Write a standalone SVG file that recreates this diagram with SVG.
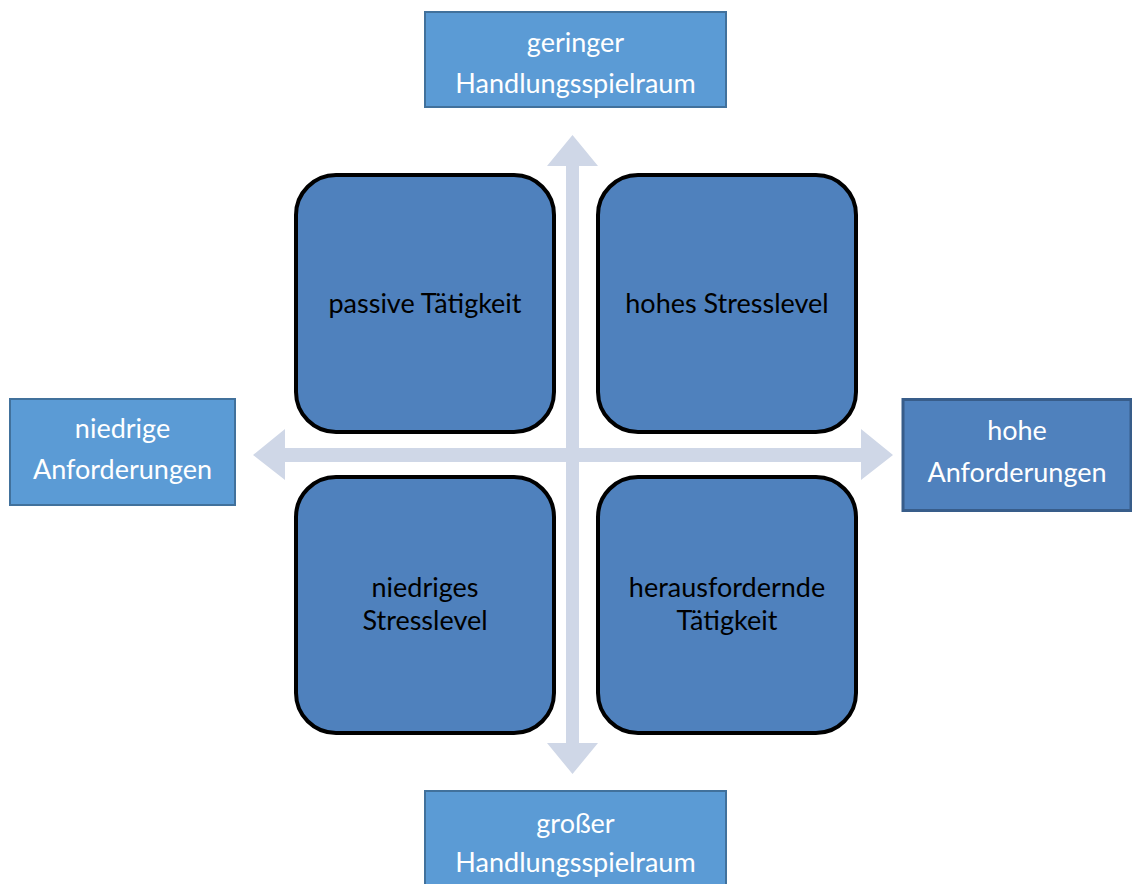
<svg xmlns="http://www.w3.org/2000/svg" width="1132" height="884" viewBox="0 0 1132 884">
<style>
  .axis { fill: #5B9BD5; stroke: #41719C; stroke-width: 2; }
  .axis-hi { fill: #4F81BD; stroke: #385D8A; stroke-width: 3; }
  .quad { fill: #4F81BD; stroke: #000000; stroke-width: 4; }
  .arrow { fill: #CFD7E7; }
  .lt { font-family: "Lato", "Liberation Sans", sans-serif; font-size: 27px; fill: #FFFFFF; text-anchor: middle; }
  .dt { font-family: "Lato", "Liberation Sans", sans-serif; font-size: 27px; fill: #000000; text-anchor: middle; }
</style>
<rect width="1132" height="884" fill="#FFFFFF"/>
<g id="connectors">
  <polygon class="arrow" points="572.5,135 598,166 579,166 579,743 598,743 572.5,774 547,743 566,743 566,166 547,166"/>
  <polygon class="arrow" points="253,455 285,429 285,448 861,448 861,429 893,455 861,480 861,462 285,462 285,480"/>
</g>
<g id="q-passive">
  <rect class="quad" x="296" y="175" width="258" height="257" rx="40"/>
  <text class="dt" x="425" y="313">passive Tätigkeit</text>
</g>
<g id="q-hohes">
  <rect class="quad" x="598" y="175" width="258" height="257" rx="40"/>
  <text class="dt" x="727" y="313">hohes Stresslevel</text>
</g>
<g id="q-niedriges">
  <rect class="quad" x="296" y="477" width="258" height="256" rx="40"/>
  <text class="dt" x="425" y="597">niedriges</text>
  <text class="dt" x="425" y="630">Stresslevel</text>
</g>
<g id="q-heraus">
  <rect class="quad" x="598" y="477" width="258" height="256" rx="40"/>
  <text class="dt" x="727" y="597">herausfordernde</text>
  <text class="dt" x="727" y="630">Tätigkeit</text>
</g>
<g id="n-top">
  <rect class="axis" x="425" y="12" width="301" height="95"/>
  <text class="lt" x="575.5" y="52">geringer</text>
  <text class="lt" x="575.5" y="93">Handlungsspielraum</text>
</g>
<g id="n-left">
  <rect class="axis" x="10" y="399" width="225" height="106"/>
  <text class="lt" x="122.5" y="438">niedrige</text>
  <text class="lt" x="122.5" y="479">Anforderungen</text>
</g>
<g id="n-right">
  <rect class="axis-hi" x="903" y="399.5" width="228" height="111"/>
  <text class="lt" x="1017" y="440">hohe</text>
  <text class="lt" x="1017" y="482">Anforderungen</text>
</g>
<g id="n-bottom">
  <rect class="axis" x="425" y="791" width="301" height="100"/>
  <text class="lt" x="575.5" y="833">großer</text>
  <text class="lt" x="575.5" y="872">Handlungsspielraum</text>
</g>
</svg>
